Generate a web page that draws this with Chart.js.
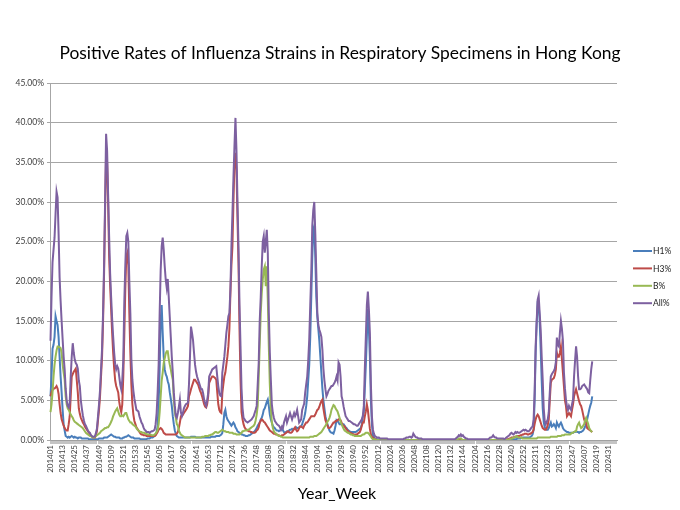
<!DOCTYPE html>
<html lang="en">
<head>
    <meta charset="UTF-8">
    <title>Positive Rates of Influenza Strains in Respiratory Specimens in Hong Kong</title>
    <script src="https://cdn.jsdelivr.net/npm/chart.js@4.4.1/dist/chart.umd.min.js"></script>
    <style>
        body { margin: 0; background: #fff; }
        canvas { display: block; }
    </style>
</head>
<body>
    <canvas id="fluChart" width="680" height="510"></canvas>

    <script>
        // weeks per year as reported, 2024 runs to week 39 on the axis
        const yearWeeks = [[2014, 52], [2015, 52], [2016, 53], [2017, 52], [2018, 52], [2019, 52],
                           [2020, 52], [2021, 52], [2022, 53], [2023, 52], [2024, 39]];
        const seriesNames = ['H1%', 'H3%', 'B%', 'All%'];

        // weekly positive rates (%), first value is 201401
        const h1 = [
            5.5,8.0,11.5,12.0,13.0,15.6,15.0,14.5,13.0,10.5,
            8.0,6.0,3.8,2.0,1.2,0.5,0.4,0.3,0.4,0.3,
            0.4,0.5,0.4,0.3,0.4,0.3,0.3,0.2,0.3,0.3,
            0.3,0.2,0.2,0.2,0.2,0.2,0.2,0.2,0.1,0.1,
            0.1,0.1,0.1,0.1,0.1,0.1,0.1,0.1,0.2,0.2,
            0.2,0.2,0.2,0.3,0.3,0.3,0.3,0.4,0.5,0.6,
            0.7,0.6,0.5,0.4,0.4,0.3,0.3,0.3,0.3,0.2,
            0.2,0.2,0.3,0.3,0.4,0.4,0.5,0.6,0.5,0.4,
            0.3,0.3,0.3,0.2,0.2,0.2,0.2,0.2,0.2,0.1,
            0.1,0.1,0.1,0.1,0.1,0.1,0.2,0.2,0.2,0.3,
            0.3,0.3,0.4,0.5,0.7,1.0,1.8,4.5,9.0,15.0,
            17.0,13.5,10.5,8.9,8.3,8.0,7.4,7.0,6.0,5.2,
            4.3,3.0,2.0,1.2,0.8,0.5,0.4,0.3,0.3,0.3,
            0.3,0.3,0.3,0.3,0.3,0.3,0.3,0.3,0.3,0.4,
            0.4,0.4,0.4,0.4,0.3,0.3,0.3,0.3,0.3,0.3,
            0.3,0.3,0.3,0.3,0.3,0.3,0.3,0.3,0.3,0.4,
            0.4,0.4,0.4,0.4,0.5,0.5,0.5,0.5,0.6,0.7,
            0.9,2.0,3.4,3.8,3.0,2.6,2.4,2.2,2.0,1.8,
            2.0,2.2,2.0,1.6,1.4,1.1,1.0,0.9,0.8,0.7,
            0.7,0.6,0.6,0.5,0.5,0.5,0.6,0.6,0.7,0.8,
            0.9,1.0,1.1,1.3,1.5,1.8,2.0,2.2,2.6,2.8,
            3.2,3.8,4.0,4.4,4.8,5.1,4.3,3.2,2.6,2.2,
            1.8,1.6,1.5,1.3,1.2,1.2,1.1,1.2,1.3,1.3,
            1.2,1.0,0.9,1.0,1.1,1.0,1.2,1.3,1.3,1.4,
            1.3,1.4,1.5,1.6,1.5,1.5,1.6,1.7,1.7,2.0,
            2.4,2.8,3.4,4.3,5.5,7.5,9.5,13.0,18.0,23.0,
            26.5,27.0,23.0,18.0,15.5,14.0,12.5,10.5,8.5,6.5,
            5.0,4.0,3.0,2.4,2.0,1.6,1.2,1.0,0.9,0.9,
            0.8,1.2,1.8,2.5,2.4,2.2,2.0,2.0,2.0,2.0,
            2.0,1.8,1.6,1.5,1.3,1.2,1.1,1.0,1.0,1.0,
            1.0,1.0,1.0,1.1,1.2,1.3,1.4,1.5,2.0,3.0,
            3.5,6.5,9.5,13.0,16.5,14.0,10.5,5.0,2.0,0.6,
            0.3,0.2,0.1,0.1,0.1,0.1,0.1,0.1,0.1,0.1,
            0,0,0,0,0,0,0,0,0,0,
            0,0,0,0,0,0,0,0,0,0,
            0,0,0,0,0,0,0,0,0,0,
            0,0,0,0,0,0,0,0,0,0,
            0,0,0,0,0,0,0,0,0,0,
            0,0,0,0,0,0,0,0,0,0,
            0,0,0,0,0,0,0,0,0,0,
            0,0,0,0,0,0,0,0,0,0,
            0,0,0,0,0,0,0,0,0,0,
            0,0,0,0,0,0,0,0,0,0,
            0,0,0,0,0,0,0,0,0,0,
            0,0,0,0,0,0,0,0,0,0,
            0,0,0,0,0.1,0.1,0.1,0.1,0.1,0.1,
            0.1,0.1,0.2,0.2,0.2,0.2,0.3,0.3,0.3,0.3,
            0.3,0.3,0.3,0.3,0.3,0.4,0.5,0.7,1.3,5.0,
            11.0,14.5,17.3,17.2,15.0,11.5,7.5,4.0,2.3,1.6,
            1.4,1.3,1.3,1.5,1.9,2.2,1.7,1.8,2.0,1.8,
            1.5,2.2,1.9,1.7,2.0,2.2,1.9,1.5,1.3,1.2,
            1.1,1.0,1.0,0.9,0.9,0.9,0.9,0.9,1.0,1.0,
            1.1,1.0,1.0,0.9,1.0,1.0,1.1,1.2,1.4,1.7,
            2.0,2.6,3.2,3.8,4.3,4.7,5.5
        ];
        const h3 = [
            5.5,6.0,6.3,6.5,6.5,6.6,6.8,6.5,5.8,4.5,
            3.4,2.6,2.2,1.8,1.5,1.3,1.2,1.2,2.0,3.0,
            5.5,8.0,8.3,8.6,8.8,9.0,7.5,6.0,4.0,3.3,
            2.8,2.5,2.2,2.0,1.7,1.5,1.3,1.1,0.9,0.8,
            0.5,0.4,0.3,0.3,0.3,0.6,1.2,2.5,3.8,5.5,
            8.0,10.5,15.0,21.0,29.0,36.0,35.0,30.0,23.2,19.5,
            16.5,13.5,11.0,9.0,7.5,6.8,6.4,6.0,4.8,4.0,
            3.5,4.5,8.0,13.1,19.0,23.2,23.6,22.0,16.0,11.0,
            7.0,4.5,3.2,2.4,2.0,1.6,1.4,1.2,1.0,0.8,
            0.7,0.7,0.6,0.6,0.6,0.5,0.5,0.5,0.5,0.5,
            0.5,0.5,0.5,0.5,0.6,0.8,1.0,1.3,1.4,1.5,
            1.4,1.2,0.9,0.8,0.7,0.7,0.7,0.7,0.7,0.7,
            0.7,0.7,0.7,0.7,0.7,0.8,1.0,1.5,2.2,3.0,
            3.0,3.2,3.4,3.6,3.8,4.0,4.3,5.5,5.9,6.4,
            6.8,7.2,7.6,7.6,7.4,7.2,7.0,6.6,6.2,5.9,
            5.5,5.0,4.5,4.2,4.1,4.5,5.5,7.2,7.5,7.8,
            8.0,8.0,7.9,7.8,7.6,6.0,4.5,3.8,3.5,3.4,
            5.9,7.0,8.0,8.5,9.5,10.5,11.8,14.0,18.5,22.0,
            24.4,30.0,34.9,36.2,34.0,28.0,22.3,14.0,7.6,3.5,
            2.6,2.0,1.6,1.4,1.3,1.2,1.1,1.1,1.0,1.0,
            0.9,0.9,0.9,1.0,1.2,1.3,1.6,2.2,2.4,2.6,
            2.5,2.3,2.2,2.0,1.8,1.6,1.4,1.2,1.1,1.0,
            0.9,0.8,0.8,0.7,0.7,0.6,0.6,0.5,0.5,0.6,
            0.6,0.7,0.8,0.9,1.0,1.1,1.0,0.9,0.9,1.0,
            1.2,1.4,1.6,1.3,1.1,1.2,1.5,1.7,1.7,1.6,
            1.5,1.8,2.0,2.2,2.2,2.4,2.6,2.8,3.0,3.0,
            3.0,3.0,3.2,3.5,3.8,3.9,4.2,4.6,4.9,5.1,
            4.0,3.2,2.5,2.2,1.8,1.5,1.5,1.6,1.8,2.0,
            2.2,2.2,2.4,2.4,2.5,2.6,2.6,2.5,2.2,1.9,
            1.8,1.7,1.5,1.3,1.2,1.0,0.9,0.9,0.8,0.8,
            0.7,0.7,0.7,0.7,0.8,0.9,1.0,1.3,1.8,2.2,
            2.2,3.0,3.6,4.5,3.8,2.6,1.4,0.7,0.4,0.3,
            0.2,0.1,0.1,0,0,0,0,0,0,0,
            0,0,0,0,0,0,0,0,0,0,
            0,0,0,0,0,0,0,0,0,0,
            0,0,0,0,0,0,0,0,0,0,
            0,0,0,0,0,0,0,0,0,0,
            0,0,0,0,0,0,0,0,0,0,
            0,0,0,0,0,0,0,0,0,0,
            0,0,0,0,0,0,0,0,0,0,
            0,0,0,0,0,0,0,0,0,0,
            0,0,0,0,0,0,0,0,0,0,
            0,0,0,0,0,0,0,0,0,0,
            0,0,0,0,0,0,0,0,0,0,
            0,0,0,0,0,0,0,0,0,0,
            0,0,0.1,0.1,0.2,0.2,0.3,0.3,0.3,0.4,
            0.4,0.4,0.5,0.5,0.5,0.6,0.6,0.7,0.7,0.8,
            0.8,0.8,0.7,0.7,0.8,0.8,0.9,1.0,1.3,2.0,
            2.6,3.0,3.2,3.0,2.6,2.2,1.8,1.5,1.4,1.3,
            1.3,1.5,1.9,2.6,5.0,7.2,7.6,7.7,7.8,8.2,
            8.9,11.0,10.5,10.5,11.0,11.8,10.2,8.5,6.8,5.0,
            4.3,3.0,3.2,3.4,3.2,3.0,3.8,4.5,5.5,6.0,
            6.4,5.9,5.4,4.9,4.5,4.3,3.8,3.2,2.6,2.3,
            2.2,1.5,1.4,1.3,1.2,1.1,1.0
        ];
        const fluB = [
            3.5,4.5,6.0,8.0,9.5,10.5,11.3,11.8,11.8,11.7,
            11.6,11.0,9.5,8.5,7.6,5.5,4.5,4.0,3.8,3.5,
            3.2,3.0,2.8,2.5,2.3,2.2,2.1,2.0,1.9,1.8,
            1.7,1.6,1.5,1.3,1.1,0.9,0.8,0.7,0.6,0.5,
            0.5,0.4,0.3,0.3,0.4,0.5,0.6,0.7,0.8,0.9,
            1.1,1.2,1.3,1.4,1.5,1.5,1.6,1.6,1.8,2.0,
            2.3,2.6,3.0,3.3,3.6,3.8,4.0,3.6,3.2,3.0,
            3.0,3.1,3.0,3.2,3.4,3.4,3.0,2.6,2.4,2.2,
            2.2,2.0,1.9,1.8,1.7,1.5,1.3,1.2,1.1,1.0,
            1.0,0.9,0.9,0.9,0.8,0.8,0.7,0.7,0.7,0.7,
            0.6,0.6,0.6,0.7,0.8,1.0,1.3,2.0,3.5,5.5,
            7.5,8.5,9.7,10.3,10.9,11.2,11.2,10.2,9.5,8.9,
            8.2,7.6,5.1,3.5,2.8,2.0,1.8,1.2,0.9,0.7,
            0.6,0.5,0.4,0.3,0.3,0.3,0.3,0.3,0.3,0.3,
            0.3,0.3,0.3,0.3,0.3,0.3,0.3,0.3,0.3,0.3,
            0.4,0.4,0.4,0.5,0.5,0.5,0.5,0.6,0.6,0.7,
            0.7,0.8,0.9,1.0,1.0,0.9,0.9,1.0,1.1,1.2,
            1.3,1.2,1.1,1.1,1.0,1.0,1.0,0.9,0.9,0.9,
            0.9,0.8,0.8,0.8,0.7,0.7,0.7,0.7,0.8,0.9,
            1.1,1.1,1.2,1.2,1.2,1.3,1.3,1.4,1.5,1.6,
            1.7,1.8,2.0,2.5,3.2,4.3,8.0,12.0,16.0,18.5,
            20.2,21.5,21.9,19.4,21.9,17.7,11.8,7.0,4.0,2.2,
            1.5,1.1,0.9,0.8,0.7,0.6,0.5,0.5,0.4,0.4,
            0.3,0.3,0.3,0.3,0.3,0.3,0.3,0.3,0.3,0.3,
            0.3,0.3,0.3,0.3,0.3,0.3,0.3,0.3,0.3,0.3,
            0.3,0.3,0.3,0.3,0.3,0.3,0.3,0.4,0.4,0.4,
            0.4,0.5,0.5,0.5,0.6,0.7,0.8,0.9,1.0,1.2,
            1.4,1.6,1.8,2.0,2.3,2.5,2.8,3.2,3.8,4.1,
            4.4,4.3,4.0,3.8,3.6,3.2,2.8,2.3,2.0,1.7,
            1.4,1.2,1.1,1.0,0.9,0.9,0.8,0.7,0.7,0.6,
            0.6,0.5,0.5,0.5,0.5,0.5,0.5,0.5,0.6,0.7,
            0.7,0.8,0.9,0.9,0.9,0.8,0.6,0.4,0.2,0.1,
            0.1,0.1,0,0,0,0,0,0,0,0,
            0,0,0,0,0,0,0,0,0,0,
            0,0,0,0,0,0,0,0,0,0,
            0,0,0,0,0,0,0,0,0,0,
            0,0,0,0,0,0,0,0,0,0,
            0,0,0,0,0,0,0,0,0,0,
            0,0,0,0,0,0,0,0,0,0,
            0,0,0,0,0,0,0,0,0,0,
            0,0,0,0.1,0.2,0.2,0.2,0.1,0,0,
            0,0,0,0,0,0,0,0,0,0,
            0,0,0,0,0,0,0,0,0,0,
            0,0,0,0,0,0,0,0,0,0,
            0,0,0,0,0,0,0,0,0,0,
            0,0,0,0,0.1,0.1,0.2,0.2,0.3,0.3,
            0.4,0.5,0.4,0.3,0.3,0.3,0.3,0.2,0.2,0.2,
            0.2,0.2,0.2,0.2,0.2,0.2,0.2,0.2,0.2,0.2,
            0.2,0.2,0.3,0.3,0.3,0.3,0.3,0.3,0.3,0.3,
            0.3,0.3,0.3,0.3,0.3,0.4,0.4,0.4,0.4,0.4,
            0.4,0.4,0.5,0.5,0.5,0.5,0.6,0.6,0.6,0.7,
            0.7,0.7,0.7,0.7,0.7,0.8,0.9,0.9,1.0,1.1,
            1.1,1.7,2.0,2.2,1.8,1.5,1.6,1.8,2.0,2.5,
            2.8,2.4,2.0,1.5,1.3,1.1,1.0
        ];
        const allPct = [
            12.5,18.0,22.4,24.0,25.5,28.5,31.3,30.6,26.0,20.5,
            17.5,15.0,12.7,10.5,8.9,6.5,5.0,4.3,4.1,4.7,
            8.0,10.5,12.2,11.0,10.1,9.7,9.5,9.0,7.5,6.8,
            5.0,4.0,3.1,2.5,2.0,1.8,1.5,1.2,1.0,0.9,
            0.6,0.5,0.4,0.4,0.5,0.9,1.5,3.0,4.5,6.3,
            8.9,11.5,16.0,22.0,30.0,38.6,36.5,31.0,25.7,21.0,
            18.0,15.2,13.0,11.0,9.5,8.9,9.3,9.0,8.0,7.0,
            6.4,7.5,10.0,17.3,22.0,25.7,26.1,25.0,20.0,16.0,
            10.2,7.6,6.2,5.2,4.5,3.8,3.7,3.6,3.0,2.6,
            2.2,2.0,1.6,1.3,1.2,1.0,1.0,1.0,0.9,1.0,
            1.1,1.1,1.2,1.3,2.0,3.4,6.0,9.5,16.0,21.4,
            24.4,25.5,24.0,21.9,20.2,19.2,20.3,18.0,15.5,13.0,
            10.5,8.5,6.0,4.3,3.0,2.8,3.4,4.2,5.1,3.5,
            3.0,3.4,4.0,4.3,4.5,4.6,4.7,7.0,10.5,14.3,
            13.5,12.6,11.0,9.5,8.6,8.0,7.6,7.2,6.8,6.4,
            6.4,5.9,5.1,4.6,4.3,5.0,5.9,8.0,8.3,8.6,
            8.9,9.0,9.1,9.2,9.3,8.0,6.8,5.9,5.6,5.5,
            8.5,9.5,10.5,12.0,13.5,14.5,15.6,16.0,19.0,24.4,
            28.5,33.0,37.0,40.6,36.5,30.0,24.4,17.0,11.8,6.5,
            4.0,2.8,2.6,2.4,2.3,2.2,2.3,2.4,2.5,2.6,
            2.8,3.0,3.4,3.8,4.3,7.0,9.7,15.0,18.0,21.9,
            25.0,25.7,23.6,25.0,26.5,23.6,16.0,11.0,7.6,4.5,
            3.4,2.8,2.4,2.2,2.0,1.9,1.8,1.6,1.3,1.7,
            1.5,2.2,2.6,3.0,2.2,2.6,3.0,3.4,3.0,2.6,
            3.0,3.4,3.0,3.3,3.8,3.0,2.2,2.4,2.6,3.8,
            4.2,4.6,6.0,7.0,8.0,10.0,12.7,17.0,21.0,27.0,
            29.0,30.0,26.0,21.0,16.0,14.5,13.9,13.5,13.0,11.4,
            9.0,7.5,6.4,5.5,5.8,6.2,6.4,6.6,6.8,6.8,
            7.0,7.2,7.5,8.0,7.5,9.8,9.5,8.0,5.5,5.0,
            4.2,3.6,3.0,2.8,2.6,2.4,2.4,2.3,2.2,2.1,
            2.0,2.0,1.9,1.8,1.8,2.0,2.2,2.4,2.6,3.0,
            4.3,9.0,13.0,17.0,18.7,16.5,13.5,7.0,3.0,1.3,
            0.8,0.5,0.4,0.3,0.3,0.3,0.2,0.2,0.2,0.2,
            0.2,0.2,0.2,0.2,0.1,0.1,0.1,0.1,0.1,0.1,
            0.1,0.1,0.1,0.1,0.1,0.1,0.1,0.1,0.1,0.1,
            0.2,0.2,0.3,0.3,0.3,0.4,0.4,0.3,0.4,0.8,
            0.6,0.4,0.3,0.3,0.2,0.2,0.2,0.2,0.1,0.1,
            0.1,0.1,0.1,0.1,0.1,0.1,0.1,0.1,0.1,0.1,
            0.1,0.1,0.1,0.1,0.1,0.1,0.1,0.1,0.1,0.1,
            0.1,0.1,0.1,0.1,0.1,0.1,0.1,0.1,0.1,0.1,
            0.1,0.2,0.3,0.4,0.6,0.5,0.7,0.5,0.6,0.4,
            0.3,0.2,0.2,0.1,0.1,0.1,0.1,0.1,0.1,0.1,
            0.1,0.1,0.1,0.1,0.1,0.1,0.1,0.1,0.1,0.1,
            0.1,0.1,0.1,0.1,0.2,0.3,0.3,0.4,0.6,0.4,
            0.3,0.3,0.2,0.2,0.2,0.2,0.2,0.2,0.2,0.1,
            0.2,0.3,0.4,0.5,0.6,0.8,0.9,0.8,0.7,0.8,
            1.0,0.9,1.0,0.9,0.9,1.0,1.1,1.2,1.3,1.2,
            1.3,1.2,1.1,1.1,1.2,1.4,1.6,1.7,2.6,6.0,
            11.8,15.0,17.7,18.2,16.0,13.9,10.5,7.6,4.0,2.4,
            2.0,2.3,2.6,3.5,6.0,8.0,8.3,8.5,8.7,9.0,
            9.8,12.9,12.0,11.8,13.5,15.0,14.0,12.5,8.5,6.5,
            5.1,4.2,3.8,4.3,4.0,3.8,4.5,5.1,8.0,10.0,
            11.8,10.5,8.0,6.4,6.4,6.5,6.8,6.9,7.0,6.8,
            6.6,6.4,6.0,5.9,7.5,8.9,9.9
        ];

        const colors = ['#4a7ebb', '#be4b48', '#98b954', '#7d60a0'];
        const FONT = 'Lato, "Liberation Sans", sans-serif';

        const weekLabels = [];
        yearWeeks.forEach(([year, n]) => {
            for (let w = 1; w <= n; w++) {
                weekLabels.push(year + String(w).padStart(2, '0'));
            }
        });

        // title, axis title and the legend on the right side
        const overlay = {
            id: 'overlay',
            afterDraw(chart) {
                const c = chart.ctx;
                c.save();
                c.fillStyle = '#000';
                c.textAlign = 'center';
                c.textBaseline = 'middle';
                c.font = '17.4px ' + FONT;
                c.fillText('Positive Rates of Influenza Strains in Respiratory Specimens in Hong Kong', 340, 53);
                c.font = '16px ' + FONT;
                c.fillText('Year_Week', 337, 494);

                c.textAlign = 'left';
                c.font = '8.5px ' + FONT;
                chart.data.datasets.forEach((ds, i) => {
                    const y = 251 + i * 17.4;
                    c.strokeStyle = ds.borderColor;
                    c.lineWidth = 2;
                    c.beginPath();
                    c.moveTo(633, y);
                    c.lineTo(652, y);
                    c.stroke();
                    c.fillStyle = '#222';
                    c.fillText(ds.label, 653, y + 0.5);
                });
                c.restore();
            }
        };

        const series = [h1, h3, fluB, allPct];

        new Chart(document.getElementById('fluChart'), {
            type: 'line',
            data: {
                labels: weekLabels,
                datasets: series.map((values, i) => ({
                    label: seriesNames[i],
                    data: values,
                    borderColor: colors[i],
                    backgroundColor: colors[i],
                    borderWidth: 2,
                    pointRadius: 0,
                    tension: 0,
                    order: 3 - i
                }))
            },
            options: {
                responsive: false,
                animation: false,
                devicePixelRatio: 1,
                layout: { padding: { top: 83, right: 63, bottom: 0, left: 0 } },
                plugins: {
                    legend: { display: false },
                    title: { display: false },
                    tooltip: { enabled: false }
                },
                scales: {
                    x: {
                        type: 'category',
                        offset: true,
                        grid: {
                            drawOnChartArea: false,
                            drawTicks: true,
                            tickLength: 4,
                            color: '#c4c4c4'
                        },
                        border: { color: '#a0a0a0' },
                        ticks: {
                            autoSkip: false,
                            minRotation: 90,
                            maxRotation: 90,
                            padding: 1,
                            color: '#404040',
                            font: { family: FONT, size: 8 },
                            callback: function (value, index) {
                                return index % 12 === 0 ? this.getLabelForValue(value) : '';
                            }
                        },
                        afterFit: s => { s.height = 70; }
                    },
                    y: {
                        min: 0,
                        max: 45,
                        grid: { color: '#a6a6a6', tickLength: 3 },
                        border: { color: '#a6a6a6' },
                        ticks: {
                            stepSize: 5,
                            padding: 3,
                            color: '#404040',
                            font: { family: FONT, size: 8.5 },
                            callback: v => v.toFixed(2) + '%'
                        },
                        afterFit: s => { s.width = 50; }
                    }
                }
            },
            plugins: [overlay]
        });
    </script>
</body>
</html>
